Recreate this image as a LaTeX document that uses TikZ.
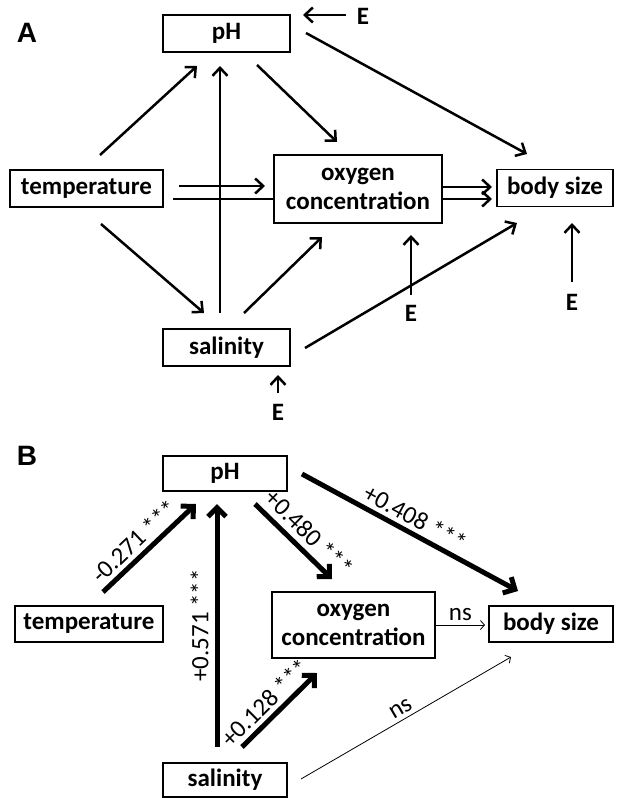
\documentclass[tikz,border=0pt]{standalone}
\usepackage{fontspec}
\setmainfont{Carlito}
\newfontfamily\panelfont{Liberation Sans}
\usetikzlibrary{arrows.meta}
\pgfdeclarelayer{bg}
\pgfsetlayers{bg,main}

\begin{document}
\begin{tikzpicture}[x=1pt,y=-1pt,
  varbox/.style={draw,line width=1.4pt,fill=white,inner sep=0pt,align=center,
    font=\fontsize{25}{29}\selectfont\bfseries},
  errterm/.style={inner sep=0pt,font=\fontsize{25}{29}\selectfont\bfseries},
  panel/.style={inner sep=0pt,font=\fontsize{28}{32}\selectfont\panelfont\bfseries},
  pathA/.style={line width=2.5pt,-{Straight Barb[length=8pt,width=15pt]}},
  pathB/.style={line width=5pt,-{Straight Barb[length=9pt,width=18pt]}},
  pathns/.style={line width=0.8pt,-{Straight Barb[length=4pt,width=9pt]}},
  coef/.style={font=\fontsize{25}{29}\selectfont,sloped,above,inner sep=4pt}]
\useasboundingbox (0,0) rectangle (616,798);

\node[panel] (lblA) at (27,33) {A};
\node[varbox,minimum width=127pt,minimum height=37pt] (phA) at (226.5,33.5) {pH};
\node[varbox,minimum width=153pt,minimum height=37pt] (temA) at (86.5,188.5) {temperature};
\node[varbox,minimum width=168pt,minimum height=68pt] (oxyA) at (358,189) {oxygen\\concentration};
\node[varbox,minimum width=116pt,minimum height=37pt] (bodyA) at (555,188) {body size};
\node[varbox,minimum width=127pt,minimum height=37pt] (salA) at (226.5,347.5) {salinity};

\node[errterm] (Eph) at (363,16) {E};
\node[errterm] (Esal) at (278,412) {E};
\node[errterm] (Eoxy) at (411,313) {E};
\node[errterm] (Ebody) at (572,302) {E};

\draw[pathA] ([shift={(13.5,-33.5)}]temA.center) -- ([shift={(-29.5,32.5)}]phA.center);
\draw[pathA] ([shift={(-6.5,-34.5)}]salA.center) -- ([shift={(-6.5,32.5)}]phA.center);
\draw[pathA] ([shift={(30.5,31.5)}]phA.center) -- ([shift={(-21,-47)}]oxyA.center);
\draw[pathA] ([shift={(79.5,-0.5)}]phA.center) -- ([shift={(-28,-34)}]bodyA.center);
\draw[pathA] ([shift={(92.5,-2.5)}]temA.center) -- ([shift={(-93,-3)}]oxyA.center);
\draw[pathA] ([shift={(84,-2)}]oxyA.center) -- ([shift={(-63,-1)}]bodyA.center);
\draw[pathA] ([shift={(14.5,35.5)}]temA.center) -- ([shift={(-22.5,-34.5)}]salA.center);
\draw[pathA] ([shift={(17.5,-34.5)}]salA.center) -- ([shift={(-36,48)}]oxyA.center);
\draw[pathA] ([shift={(78.5,0.5)}]salA.center) -- ([shift={(-38,35)}]bodyA.center);
\begin{pgfonlayer}{bg}
\draw[pathA] ([shift={(86.5,10.5)}]temA.center) -- ([shift={(-63,11)}]bodyA.center);
\end{pgfonlayer}

\draw[pathA] ([shift={(-17,-1)}]Eph.center) -- ([shift={(76.5,-18.5)}]phA.center);
\draw[pathA] ([shift={(0,-19)}]Esal.center) -- ([shift={(51.5,27.5)}]salA.center);
\draw[pathA] ([shift={(0,-18)}]Eoxy.center) -- ([shift={(53,46)}]oxyA.center);
\draw[pathA] ([shift={(0,-20)}]Ebody.center) -- ([shift={(17,35)}]bodyA.center);

\node[panel] (lblB) at (27,456) {B};
\node[varbox,minimum width=124pt,minimum height=35pt] (phB) at (225,473.5) {pH};
\node[varbox,minimum width=148pt,minimum height=36pt] (temB) at (89,624) {temperature};
\node[varbox,minimum width=163pt,minimum height=66pt] (oxyB) at (353.5,625) {oxygen\\concentration};
\node[varbox,minimum width=124pt,minimum height=36pt] (bodyB) at (551,624) {body size};
\node[varbox,minimum width=124pt,minimum height=34pt] (salB) at (225,780) {salinity};

\draw[pathB] ([shift={(14,-32)}]temB.center) -- node[coef,pos=0.45] {-0.271 ***} ([shift={(-29,30.5)}]phB.center);
\draw[pathB] ([shift={(-8,-33)}]salB.center) -- node[coef,pos=0.5,inner sep=6pt] {+0.571 ***} ([shift={(-8,30.5)}]phB.center);
\draw[pathB] ([shift={(30,30.5)}]phB.center) -- node[coef,pos=0.55,inner sep=6pt] {+0.480 ***} ([shift={(-21.5,-46)}]oxyB.center);
\draw[pathB] ([shift={(77,0.5)}]phB.center) -- node[coef,pos=0.49] {+0.408 ***} ([shift={(-33,-33)}]bodyB.center);
\draw[pathB] ([shift={(17,-33)}]salB.center) -- node[coef,pos=0.45] {+0.128 ***} ([shift={(-36.5,48)}]oxyB.center);
\draw[pathns] (oxyB.east) -- node[coef] {ns} ([shift={(-66,1)}]bodyB.center);
\draw[pathns] ([shift={(76,-1)}]salB.center) -- node[coef] {ns} ([shift={(-40,33)}]bodyB.center);

\end{tikzpicture}
\end{document}
